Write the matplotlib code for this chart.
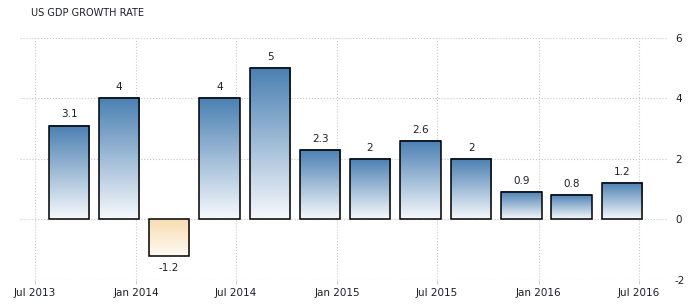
import numpy as np
import pandas as pd
import matplotlib
matplotlib.use('Agg')
import matplotlib.pyplot as plt
import matplotlib.dates as mdates

plt.rcParams['axes.unicode_minus'] = False

quarters = ['2013Q3', '2013Q4', '2014Q1', '2014Q2', '2014Q3', '2014Q4',
            '2015Q1', '2015Q2', '2015Q3', '2015Q4', '2016Q1', '2016Q2']
growth = [3.1, 4, -1.2, 4, 5, 2.3, 2, 2.6, 2, 0.9, 0.8, 1.2]
labels = ['3.1', '4', '-1.2', '4', '5', '2.3', '2', '2.6', '2', '0.9', '0.8', '1.2']
yticks = [-2, 0, 2, 4, 6]

# bars sit on the first day of each quarter's last month
dates = [pd.Period(q, freq='Q').asfreq('M', 'end').to_timestamp() for q in quarters]

TEXT = '#1e1e28'
BLUE_TOP = np.array([74, 127, 178]) / 255
BLUE_BOT = np.array([246, 249, 252]) / 255
ORANGE_TOP = np.array([248, 221, 176]) / 255
ORANGE_BOT = np.array([254, 250, 244]) / 255

fig = plt.figure(figsize=(6.99, 3.04), dpi=100)
ax = fig.add_axes([20 / 699, 24 / 304, 648 / 699, 242.3 / 304])

bars = ax.bar(dates, growth, width=73, facecolor='none', edgecolor='black',
              linewidth=1.1, zorder=3)

t = np.linspace(0, 1, 256).reshape(-1, 1)
for bar, val in zip(bars, growth):
    x0 = bar.get_x()
    x1 = x0 + bar.get_width()
    y0 = bar.get_y()
    y1 = y0 + bar.get_height()
    if val >= 0:
        top, bot = BLUE_TOP, BLUE_BOT
    else:
        top, bot = ORANGE_TOP, ORANGE_BOT
    img = top * (1 - t[:, :, None]) + bot * t[:, :, None]
    ax.imshow(img, extent=[x0, x1, min(y0, y1), max(y0, y1)], origin='upper',
              aspect='auto', zorder=2, interpolation='bilinear')

for d, val, lab in zip(dates, growth, labels):
    if val >= 0:
        ax.annotate(lab, (d, val), xytext=(0, 8), textcoords='offset points',
                    ha='center', va='center', fontsize=7.5, color=TEXT)
    else:
        ax.annotate(lab, (d, val), xytext=(0, -9), textcoords='offset points',
                    ha='center', va='center', fontsize=7.5, color=TEXT)

ax.set_xlim(pd.Timestamp('2013-06-04'), pd.Timestamp('2016-08-23'))
ax.set_ylim(-2, 6)

ax.xaxis.set_major_locator(mdates.MonthLocator(bymonth=[1, 7]))
ax.xaxis.set_major_formatter(mdates.DateFormatter('%b %Y'))
ax.set_yticks(yticks)
ax.yaxis.tick_right()

ax.tick_params(axis='x', length=3, color='#cccccc', labelsize=7.5,
               labelcolor=TEXT, pad=3)
ax.tick_params(axis='y', length=0, labelsize=7.5, labelcolor=TEXT, pad=5)

ax.grid(True, linestyle=':', color='#c8c8c8', linewidth=0.8, zorder=0)
ax.set_axisbelow(True)
for s in ax.spines.values():
    s.set_visible(False)

fig.text(31 / 699, 1 - 13 / 304, 'US GDP GROWTH RATE', fontsize=7, color=TEXT,
         ha='left', va='center')

fig.savefig('out.png', dpi=100)
